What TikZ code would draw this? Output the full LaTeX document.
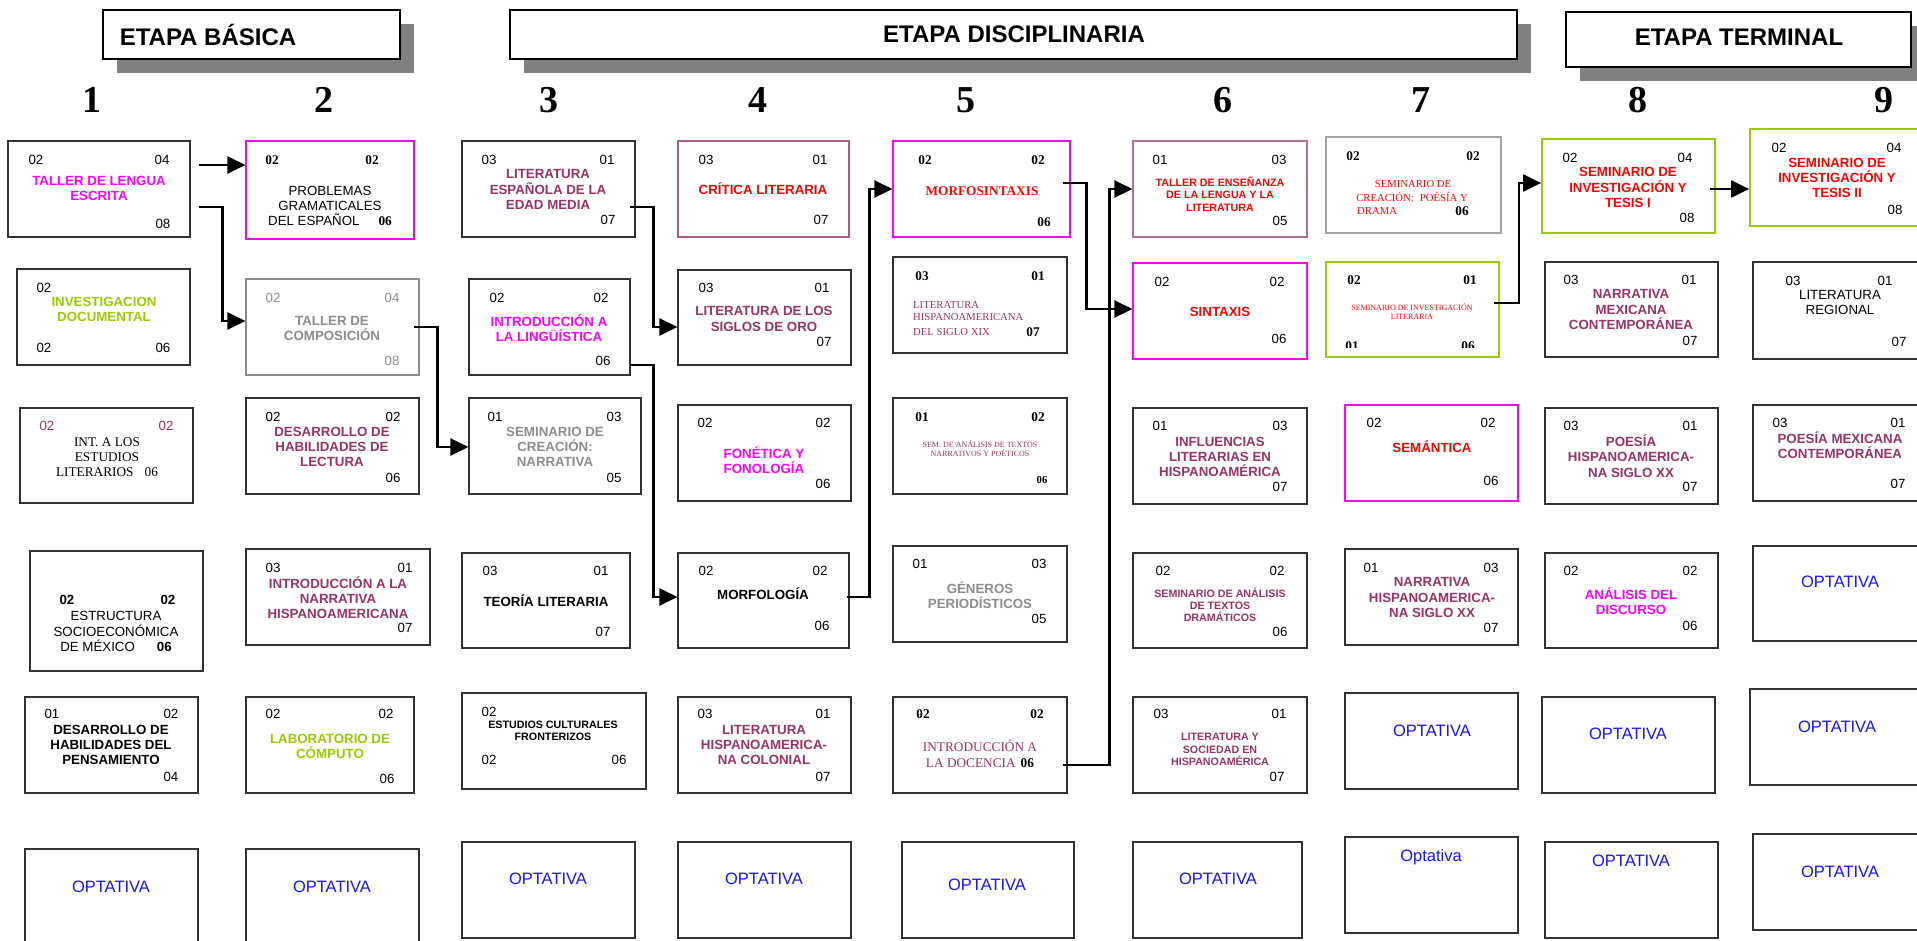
\documentclass[tikz,border=0pt]{standalone}
\usepackage{fontspec}
\setmainfont{Liberation Serif}
\setsansfont{Liberation Sans}
\usetikzlibrary{fit,arrows.meta}
\definecolor{mag}{RGB}{255,0,255}
\definecolor{plum}{RGB}{153,51,102}
\definecolor{limeg}{RGB}{153,204,0}
\definecolor{grayt}{RGB}{140,140,140}
\definecolor{optblue}{RGB}{20,20,255}
\definecolor{bordc}{RGB}{50,50,50}
\definecolor{redt}{RGB}{255,0,0}
\definecolor{mauve}{RGB}{180,110,150}
\definecolor{shadowc}{RGB}{128,128,128}
\newcommand\tx[5][]{\node[#1] (#2) at (#3,#4) {#5};}
\tikzset{
 box/.style={draw=bordc, line width=1.1pt, inner sep=0pt},
 nm/.style={inner sep=0pt, font=\sffamily\fontsize{13.3}{15}\selectfont},
 nb/.style={inner sep=0pt, font=\sffamily\bfseries\fontsize{13.3}{15}\selectfont},
 bs/.style={inner sep=0pt, font=\rmfamily\bfseries\fontsize{13.3}{15}\selectfont},
 tt/.style={inner sep=0pt, align=center, font=\sffamily\bfseries\fontsize{13.3}{15.3}\selectfont},
 tts/.style={inner sep=0pt, align=center, font=\sffamily\bfseries\fontsize{10.7}{12.3}\selectfont},
 sr/.style={inner sep=0pt, align=center, font=\rmfamily\fontsize{13.3}{15.3}\selectfont},
 srs/.style={inner sep=0pt, align=center, font=\rmfamily\fontsize{10.7}{12.5}\selectfont},
 srt/.style={inner sep=0pt, align=center, font=\rmfamily\fontsize{8}{9.2}\selectfont},
 opt/.style={inner sep=0pt, text=optblue, font=\sffamily\fontsize{16.5}{19}\selectfont},
 head/.style={draw=black, line width=1.2pt, fill=white, inner sep=0pt},
 htext/.style={inner sep=0pt, font=\sffamily\bfseries\fontsize{24}{28}\selectfont},
 colnum/.style={inner sep=0pt, font=\rmfamily\bfseries\fontsize{38}{40}\selectfont},
 conn/.style={draw=black, line width=2.2pt, -{Triangle[length=18pt,width=17pt]}},
}
\begin{document}
\begin{tikzpicture}[x=1pt,y=-1pt]
\useasboundingbox (0,0) rectangle (1917,941);
\clip (0,0) rectangle (1917,941);
\fill[white] (0,0) rectangle (1917,941);
% headers
\fill[shadowc] (117,24) rectangle (414,73);
\node[head, fit={(103,10) (400,59)}] (h1) {};
\tx[htext]{h1t}{208}{34.5}{ETAPA BÁSICA}
\fill[shadowc] (524,24) rectangle (1531,73);
\node[head, fit={(510,10) (1517,59)}] (h2) {};
\tx[htext]{h2t}{1014}{34.5}{ETAPA DISCIPLINARIA}
\fill[shadowc] (1580,26) rectangle (1917,81);
\node[head, fit={(1566,12) (1911,67)}] (h3) {};
\tx[htext]{h3t}{1739}{37}{ETAPA TERMINAL}
% column numbers
\tx[colnum]{c1}{92}{100}{1}
\tx[colnum]{c2}{324}{100}{2}
\tx[colnum]{c3}{549}{100}{3}
\tx[colnum]{c4}{758}{100}{4}
\tx[colnum]{c5}{966}{100}{5}
\tx[colnum]{c6}{1223}{100}{6}
\tx[colnum]{c7}{1421}{100}{7}
\tx[colnum]{c8}{1638}{100}{8}
\tx[colnum]{c9}{1884}{100}{9}
% ---------------- column 1
\node[box, fit={(8,141) (190,237)}] (b11) {};
\tx[nm]{b11a}{36}{160}{02}
\tx[nm]{b11b}{162}{160}{04}
\tx[tt,text=mag]{b11t}{99}{188.5}{TALLER DE LENGUA\\ESCRITA}
\tx[nm]{b11c}{163}{224}{08}
\node[box, fit={(17,269) (190,365)}] (b12) {};
\tx[nm]{b12a}{44}{288}{02}
\tx[tt,text=limeg]{b12t}{104}{309.5}{INVESTIGACION\\DOCUMENTAL}
\tx[nm]{b12b}{44}{348}{02}
\tx[nm]{b12c}{163}{348}{06}
\node[box, fit={(20,408) (193,503)}] (b13) {};
\tx[nm,text=plum]{b13a}{47}{426}{02}
\tx[nm,text=plum]{b13b}{166}{426}{02}
\tx[sr]{b13t}{107}{457}{INT. A LOS\\ESTUDIOS\\LITERARIOS\hspace{11pt}06}
\node[box, fit={(30,551) (203,671)}] (b14) {};
\tx[nb]{b14a}{67}{600}{02}
\tx[nb]{b14b}{168}{600}{02}
\tx[tt,font=\sffamily\fontsize{13.3}{15.5}\selectfont]{b14t}{116}{631.5}{ESTRUCTURA\\SOCIOECONÓMICA\\DE MÉXICO\hspace{22pt}\textbf{06}}
\node[box, fit={(25,697) (198,793)}] (b15) {};
\tx[nm]{b15a}{52}{714}{01}
\tx[nm]{b15b}{171}{714}{02}
\tx[tt]{b15t}{111}{745}{DESARROLLO DE\\HABILIDADES DEL\\PENSAMIENTO}
\tx[nm]{b15c}{171}{777}{04}
\node[box, fit={(25,849) (198,945)}] (b16) {};
\tx[opt]{b16t}{111}{887}{OPTATIVA}
% ---------------- column 2
\node[box, draw=mag, fit={(246,141) (414,239)}] (b21) {};
\tx[bs]{b21a}{272}{160}{02}
\tx[bs]{b21b}{372}{160}{02}
\tx[tt,font=\sffamily\fontsize{13.3}{15}\selectfont]{b21t}{330}{206}{PROBLEMAS\\GRAMATICALES\\DEL ESPAÑOL\hspace{19pt}{\rmfamily\bfseries 06}}
\node[box, draw=grayt, fit={(246,279) (419,375)}] (b22) {};
\tx[nm,text=grayt]{b22a}{273}{298}{02}
\tx[nm,text=grayt]{b22b}{392}{298}{04}
\tx[tt,text=grayt]{b22t}{332}{328.5}{TALLER DE\\COMPOSICIÓN}
\tx[nm,text=grayt]{b22c}{392}{361}{08}
\node[box, fit={(246,398) (419,494)}] (b23) {};
\tx[nm]{b23a}{273}{417}{02}
\tx[nm]{b23b}{393}{417}{02}
\tx[tt,text=plum]{b23t}{332}{447}{DESARROLLO DE\\HABILIDADES DE\\LECTURA}
\tx[nm]{b23c}{393}{478}{06}
\node[box, fit={(246,549) (430,645)}] (b24) {};
\tx[nm]{b24a}{273}{568}{03}
\tx[nm]{b24b}{405}{568}{01}
\tx[tt,text=plum]{b24t}{338}{597.5}{INTRODUCCIÓN A LA\\NARRATIVA\\HISPANOAMERICANA}
\tx[nm]{b24c}{405}{628}{07}
\node[box, fit={(246,697) (414,793)}] (b25) {};
\tx[nm]{b25a}{273}{714}{02}
\tx[nm]{b25b}{386}{714}{02}
\tx[tt,text=limeg]{b25t}{330}{746.5}{LABORATORIO DE\\CÓMPUTO}
\tx[nm]{b25c}{387}{779}{06}
\node[box, fit={(246,849) (419,945)}] (b26) {};
\tx[opt]{b26t}{332}{887}{OPTATIVA}
% ---------------- column 3
\node[box, fit={(462,141) (635,237)}] (b31) {};
\tx[nm]{b31a}{489}{160}{03}
\tx[nm]{b31b}{607}{160}{01}
\tx[tt,text=plum]{b31t}{548}{189.5}{LITERATURA\\ESPAÑOLA DE LA\\EDAD MEDIA}
\tx[nm]{b31c}{608}{220}{07}
\node[box, fit={(469,279) (630,375)}] (b32) {};
\tx[nm]{b32a}{497}{298}{02}
\tx[nm]{b32b}{601}{298}{02}
\tx[tt,text=mag]{b32t}{549}{328.5}{INTRODUCCIÓN A\\LA LINGÜÍSTICA}
\tx[nm]{b32c}{603}{361}{06}
\node[box, fit={(469,398) (641,494)}] (b33) {};
\tx[nm]{b33a}{495}{417}{01}
\tx[nm]{b33b}{614}{417}{03}
\tx[tt,text=grayt]{b33t}{555}{447}{SEMINARIO DE\\CREACIÓN:\\NARRATIVA}
\tx[nm]{b33c}{614}{478}{05}
\node[box, fit={(462,553) (630,648)}] (b34) {};
\tx[nm]{b34a}{490}{571}{03}
\tx[nm]{b34b}{601}{571}{01}
\tx[tt]{b34t}{546}{601}{TEORÍA LITERARIA}
\tx[nm]{b34c}{603}{632}{07}
\node[box, fit={(462,693) (646,789)}] (b35) {};
\tx[nm]{b35a}{489}{712}{02}
\tx[tts]{b35t}{553}{730.5}{ESTUDIOS CULTURALES\\FRONTERIZOS}
\tx[nm]{b35b}{489}{760}{02}
\tx[nm]{b35c}{619}{760}{06}
\node[box, fit={(462,842) (635,938)}] (b36) {};
\tx[opt]{b36t}{548}{879}{OPTATIVA}
% ---------------- column 4
\node[box, draw=plum!80, fit={(678,141) (849,237)}] (b41) {};
\tx[nm]{b41a}{706}{160}{03}
\tx[nm]{b41b}{820}{160}{01}
\tx[tt,text=redt]{b41t}{763}{189}{CRÍTICA LITERARIA}
\tx[nm]{b41c}{821}{220}{07}
\node[box, fit={(678,270) (851,365)}] (b42) {};
\tx[nm]{b42a}{706}{288}{03}
\tx[nm]{b42b}{822}{288}{01}
\tx[tt,text=plum]{b42t}{764}{319}{LITERATURA DE LOS\\SIGLOS DE ORO}
\tx[nm]{b42c}{824}{342}{07}
\node[box, fit={(678,405) (851,501)}] (b43) {};
\tx[nm]{b43a}{705}{423}{02}
\tx[nm]{b43b}{823}{423}{02}
\tx[tt,text=mag]{b43t}{764}{460.5}{FONÉTICA Y\\FONOLOGÍA}
\tx[nm]{b43c}{823}{484}{06}
\node[box, fit={(678,553) (849,648)}] (b44) {};
\tx[nm]{b44a}{706}{571}{02}
\tx[nm]{b44b}{820}{571}{02}
\tx[tt]{b44t}{763}{594}{MORFOLOGÍA}
\tx[nm]{b44c}{822}{626}{06}
\node[box, fit={(678,697) (851,793)}] (b45) {};
\tx[nm]{b45a}{705}{714}{03}
\tx[nm]{b45b}{823}{714}{01}
\tx[tt,text=plum]{b45t}{764}{745}{LITERATURA\\HISPANOAMERICA-\\NA COLONIAL}
\tx[nm]{b45c}{823}{777}{07}
\node[box, fit={(678,842) (851,938)}] (b46) {};
\tx[opt]{b46t}{764}{879}{OPTATIVA}
% ---------------- column 5
\node[box, draw=mag, fit={(893,141) (1070,237)}] (b51) {};
\tx[bs]{b51a}{925}{160}{02}
\tx[bs]{b51b}{1038}{160}{02}
\tx[bs,text=redt]{b51t}{982}{191}{MORFOSINTAXIS}
\tx[bs]{b51c}{1044}{222}{06}
\node[box, fit={(893,257) (1067,353)}] (b52) {};
\tx[bs]{b52a}{922}{276}{03}
\tx[bs]{b52b}{1038}{276}{01}
\tx[srs,text=plum,anchor=west]{b52t1}{913}{305}{LITERATURA}
\tx[srs,text=plum,anchor=west]{b52t2}{913}{317}{HISPANOAMERICANA}
\tx[srs,text=plum,anchor=west]{b52t3}{913}{332}{DEL SIGLO XIX}
\tx[bs]{b52c}{1033}{332}{07}
\node[box, fit={(893,398) (1067,494)}] (b53) {};
\tx[bs]{b53a}{922}{417}{01}
\tx[bs]{b53b}{1038}{417}{02}
\tx[srt,text=plum]{b53t}{980}{448.5}{SEM. DE ANÁLISIS DE TEXTOS\\NARRATIVOS Y POÉTICOS}
\tx[bs,font=\rmfamily\bfseries\fontsize{10.7}{12}\selectfont]{b53c}{1042}{480}{06}
\node[box, fit={(893,546) (1067,642)}] (b54) {};
\tx[nm]{b54a}{920}{564}{01}
\tx[nm]{b54b}{1039}{564}{03}
\tx[tt,text=grayt]{b54t}{980}{595.5}{GÉNEROS\\PERIODÍSTICOS}
\tx[nm]{b54c}{1039}{619}{05}
\node[box, fit={(893,697) (1067,793)}] (b55) {};
\tx[bs]{b55a}{923}{714}{02}
\tx[bs]{b55b}{1037}{714}{02}
\tx[sr,text=plum,font=\rmfamily\fontsize{13.3}{16}\selectfont]{b55t}{980}{754}{INTRODUCCIÓN A\\LA DOCENCIA\hspace{5pt}{\bfseries\color{black}06}}
\node[box, fit={(902,842) (1074,938)}] (b56) {};
\tx[opt]{b56t}{987}{885}{OPTATIVA}
% ---------------- column 6
\node[box, draw=mauve, fit={(1133,141) (1307,237)}] (b61) {};
\tx[nm]{b61a}{1160}{160}{01}
\tx[nm]{b61b}{1279}{160}{03}
\tx[tts,text=redt]{b61t}{1220}{194}{TALLER DE ENSEÑANZA\\DE LA LENGUA Y LA\\LITERATURA}
\tx[nm]{b61c}{1280}{221}{05}
\node[box, draw=mag, fit={(1133,263) (1307,359)}] (b62) {};
\tx[nm]{b62a}{1162}{282}{02}
\tx[nm]{b62b}{1277}{282}{02}
\tx[tt,text=redt]{b62t}{1220}{312}{SINTAXIS}
\tx[nm]{b62c}{1279}{339}{06}
\node[box, fit={(1133,408) (1307,504)}] (b63) {};
\tx[nm]{b63a}{1160}{426}{01}
\tx[nm]{b63b}{1280}{426}{03}
\tx[tt,text=plum]{b63t}{1220}{457}{INFLUENCIAS\\LITERARIAS EN\\HISPANOAMÉRICA}
\tx[nm]{b63c}{1280}{487}{07}
\node[box, fit={(1133,553) (1307,648)}] (b64) {};
\tx[nm]{b64a}{1163}{571}{02}
\tx[nm]{b64b}{1277}{571}{02}
\tx[tts,text=plum]{b64t}{1220}{605}{SEMINARIO DE ANÁLISIS\\DE TEXTOS\\DRAMÁTICOS}
\tx[nm]{b64c}{1280}{632}{06}
\node[box, fit={(1133,697) (1307,793)}] (b65) {};
\tx[nm]{b65a}{1161}{714}{03}
\tx[nm]{b65b}{1279}{714}{01}
\tx[tts,text=plum]{b65t}{1220}{749.5}{LITERATURA Y\\SOCIEDAD EN\\HISPANOAMÉRICA}
\tx[nm]{b65c}{1277}{777}{07}
\node[box, fit={(1133,842) (1302,938)}] (b66) {};
\tx[opt]{b66t}{1218}{879}{OPTATIVA}
% ---------------- column 7
\node[box, draw=grayt!80, fit={(1326,137) (1501,233)}] (b71) {};
\tx[bs]{b71a}{1353}{156}{02}
\tx[bs]{b71b}{1473}{156}{02}
\tx[srs,text=redt]{b71t1}{1413}{184}{SEMINARIO DE}
\tx[srs,text=redt]{b71t2}{1412}{197}{CREACIÓN:\hspace{6pt}POÉSÍA Y}
\tx[srs,text=redt,anchor=west]{b71t3}{1357}{211}{DRAMA}
\tx[bs]{b71c}{1462}{211}{06}
\node[box, draw=limeg, line width=1.6pt, fit={(1326,262) (1499,357)}] (b72) {};
\tx[bs]{b72a}{1354}{280}{02}
\tx[bs]{b72b}{1470}{280}{01}
\tx[srt,text=redt]{b72t}{1412}{311.5}{SEMINARIO DE INVESTIGACIÓN\\LITERARIA}
\begin{scope}
\clip (1326,262) rectangle (1499,347);
\tx[bs]{b72c}{1352}{346}{01}
\tx[bs]{b72d}{1468}{346}{06}
\end{scope}
\node[box, draw=mag, fit={(1345,405) (1518,501)}] (b73) {};
\tx[nm]{b73a}{1374}{423}{02}
\tx[nm]{b73b}{1488}{423}{02}
\tx[tt,text=redt]{b73t}{1432}{447}{SEMÁNTICA}
\tx[nm]{b73c}{1491}{481}{06}
\node[box, fit={(1345,549) (1518,645)}] (b74) {};
\tx[nm]{b74a}{1371}{568}{01}
\tx[nm]{b74b}{1491}{568}{03}
\tx[tt,text=plum]{b74t}{1432}{597.5}{NARRATIVA\\HISPANOAMERICA-\\NA SIGLO XX}
\tx[nm]{b74c}{1491}{628}{07}
\node[box, fit={(1345,693) (1518,789)}] (b75) {};
\tx[opt]{b75t}{1432}{731}{OPTATIVA}
\node[box, fit={(1345,837) (1518,933)}] (b76) {};
\tx[opt]{b76t}{1431}{857}{Optativa}
% ---------------- column 8
\node[box, draw=limeg, line width=1.8pt, fit={(1542,139) (1715,233)}] (b81) {};
\tx[nm]{b81a}{1570}{158}{02}
\tx[nm]{b81b}{1685}{158}{04}
\tx[tt,text=redt]{b81t}{1628}{187.5}{SEMINARIO DE\\INVESTIGACIÓN Y\\TESIS I}
\tx[nm]{b81c}{1687}{218}{08}
\node[box, fit={(1545,262) (1718,357)}] (b82) {};
\tx[nm]{b82a}{1571}{280}{03}
\tx[nm]{b82b}{1689}{280}{01}
\tx[tt,text=plum]{b82t}{1631}{309.5}{NARRATIVA\\MEXICANA\\CONTEMPORÁNEA}
\tx[nm]{b82c}{1690}{341}{07}
\node[box, fit={(1545,408) (1718,504)}] (b83) {};
\tx[nm]{b83a}{1571}{426}{03}
\tx[nm]{b83b}{1690}{426}{01}
\tx[tt,text=plum]{b83t}{1631}{456}{POESÍA\\HISPANOAMERICA-\\NA SIGLO XX}
\tx[nm]{b83c}{1690}{487}{07}
\node[box, fit={(1545,553) (1718,648)}] (b84) {};
\tx[nm]{b84a}{1571}{571}{02}
\tx[nm]{b84b}{1690}{571}{02}
\tx[tt,text=mag]{b84t}{1631}{601.5}{ANÁLISIS DEL\\DISCURSO}
\tx[nm]{b84c}{1690}{626}{06}
\node[box, fit={(1542,697) (1715,793)}] (b85) {};
\tx[opt]{b85t}{1628}{734}{OPTATIVA}
\node[box, fit={(1545,842) (1718,938)}] (b86) {};
\tx[opt]{b86t}{1631}{861}{OPTATIVA}
% ---------------- column 9
\node[box, draw=limeg, line width=1.8pt, fit={(1750,129) (1923,226)}] (b91) {};
\tx[nm]{b91a}{1779}{148}{02}
\tx[nm]{b91b}{1894}{148}{04}
\tx[tt,text=redt]{b91t}{1837}{178}{SEMINARIO DE\\INVESTIGACIÓN Y\\TESIS II}
\tx[nm]{b91c}{1895}{210}{08}
\node[box, fit={(1753,262) (1926,359)}] (b92) {};
\tx[nm]{b92a}{1793}{281}{03}
\tx[nm]{b92b}{1885}{281}{01}
\tx[tt,font=\sffamily\fontsize{13.3}{15}\selectfont]{b92t}{1840}{302.5}{LITERATURA\\REGIONAL}
\tx[nm]{b92c}{1899}{342}{07}
\node[box, fit={(1753,405) (1926,501)}] (b93) {};
\tx[nm]{b93a}{1780}{423}{03}
\tx[nm]{b93b}{1898}{423}{01}
\tx[tt,text=plum]{b93t}{1840}{445.5}{POESÍA MEXICANA\\CONTEMPORÁNEA}
\tx[nm]{b93c}{1898}{484}{07}
\node[box, fit={(1753,546) (1926,641)}] (b94) {};
\tx[opt]{b94t}{1840}{582}{OPTATIVA}
\node[box, fit={(1750,689) (1923,785)}] (b95) {};
\tx[opt]{b95t}{1837}{727}{OPTATIVA}
\node[box, fit={(1753,834) (1926,930)}] (b96) {};
\tx[opt]{b96t}{1840}{872}{OPTATIVA}
% ---------------- connectors
\draw[conn] (b11.east |- 0,165) ++(8,0) -- (b21.west |- 0,165);
\draw[conn] (b11.east |- 0,207) ++(8,0) -- ++(24,0) |- (b22.west |- 0,321);
\draw[conn] (b22.east |- 0,327) ++(-6,0) -- ++(24,0) |- (b33.west |- 0,447);
\draw[conn] (b31.east |- 0,207) ++(-6,0) -- ++(24,0) |- (b42.west |- 0,327);
\draw[conn] (b32.east |- 0,365) ++(-1,0) -- ++(24,0) |- (b44.west |- 0,597);
\draw[conn] (b44.east |- 0,597) ++(-3,0) -- ++(23,0) |- (b51.west |- 0,189);
\draw[conn] (b51.east |- 0,183) ++(-8,0) -- ++(24,0) |- (b62.west |- 0,309);
\draw[conn] (b55.east |- 0,765) ++(-5,0) -- ++(47,0) |- (b61.west |- 0,189);
\draw[conn] (b72.east |- 0,303) ++(-6,0) -- ++(25,0) |- (b81.west |- 0,183);
\draw[conn] (b81.east |- 0,189) ++(-6,0) -- (b91.west |- 0,189);
\end{tikzpicture}
\end{document}
